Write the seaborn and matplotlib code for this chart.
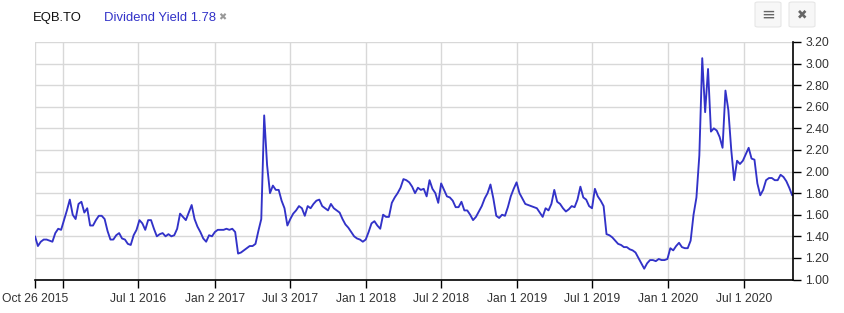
import numpy as np
import pandas as pd
import matplotlib
matplotlib.use("Agg")
import matplotlib.pyplot as plt
import matplotlib.dates as mdates
from matplotlib.patches import FancyBboxPatch
import seaborn as sns

# ---- data (weekly samples) ----
start_date = "2015-10-26"
yield_values = [
    1.40, 1.31, 1.35, 1.37, 1.37, 1.36, 1.35, 1.43, 1.47, 1.46,
    1.55, 1.64, 1.74, 1.60, 1.56, 1.70, 1.72, 1.62, 1.66, 1.50,
    1.50, 1.55, 1.59, 1.59, 1.56, 1.45, 1.37, 1.37, 1.41, 1.43,
    1.38, 1.37, 1.33, 1.32, 1.41, 1.46, 1.55, 1.52, 1.46, 1.55,
    1.55, 1.47, 1.40, 1.42, 1.43, 1.40, 1.42, 1.40, 1.41, 1.47,
    1.61, 1.58, 1.55, 1.62, 1.69, 1.56, 1.49, 1.44, 1.38, 1.35,
    1.41, 1.40, 1.44, 1.46, 1.46, 1.46, 1.47, 1.46, 1.47, 1.44,
    1.24, 1.25, 1.27, 1.29, 1.31, 1.31, 1.33, 1.45, 1.56, 2.52,
    2.06, 1.80, 1.87, 1.83, 1.83, 1.73, 1.66, 1.50, 1.56, 1.61,
    1.64, 1.68, 1.66, 1.59, 1.68, 1.66, 1.70, 1.73, 1.74, 1.68,
    1.66, 1.64, 1.70, 1.66, 1.64, 1.62, 1.56, 1.51, 1.48, 1.44,
    1.40, 1.38, 1.37, 1.35, 1.37, 1.44, 1.52, 1.54, 1.50, 1.47,
    1.60, 1.58, 1.58, 1.71, 1.76, 1.80, 1.85, 1.93, 1.92, 1.90,
    1.86, 1.80, 1.85, 1.83, 1.84, 1.77, 1.92, 1.84, 1.80, 1.71,
    1.89, 1.83, 1.77, 1.76, 1.73, 1.67, 1.67, 1.72, 1.64, 1.64,
    1.60, 1.55, 1.58, 1.63, 1.68, 1.75, 1.80, 1.88, 1.75, 1.59,
    1.57, 1.60, 1.59, 1.67, 1.77, 1.84, 1.90, 1.80, 1.75, 1.70,
    1.69, 1.68, 1.67, 1.66, 1.62, 1.58, 1.66, 1.64, 1.70, 1.83,
    1.72, 1.70, 1.66, 1.63, 1.65, 1.68, 1.67, 1.74, 1.86, 1.76,
    1.74, 1.68, 1.66, 1.84, 1.77, 1.73, 1.68, 1.42, 1.41, 1.39,
    1.36, 1.33, 1.32, 1.30, 1.30, 1.28, 1.27, 1.25, 1.20, 1.15,
    1.10, 1.15, 1.18, 1.18, 1.17, 1.19, 1.18, 1.18, 1.19, 1.29,
    1.27, 1.31, 1.34, 1.30, 1.29, 1.29, 1.36, 1.60, 1.76, 2.15,
    3.05, 2.55, 2.95, 2.37, 2.40, 2.38, 2.32, 2.22, 2.75, 2.57,
    2.20, 1.92, 2.10, 2.07, 2.10, 2.16, 2.22, 2.12, 2.11, 1.89,
    1.78, 1.83, 1.92, 1.94, 1.94, 1.92, 1.92, 1.97, 1.95, 1.91,
    1.85, 1.78,
]
x_tick_dates = ["2015-10-26", "2016-01-01", "2016-07-01", "2017-01-02", "2017-07-03",
                "2018-01-01", "2018-07-02", "2019-01-01", "2019-07-01", "2020-01-01",
                "2020-07-01"]
x_tick_labels = ["Oct 26 2015", "", "Jul 1 2016", "Jan 2 2017", "Jul 3 2017",
                 "Jan 1 2018", "Jul 2 2018", "Jan 1 2019", "Jul 1 2019", "Jan 1 2020",
                 "Jul 1 2020"]
y_ticks = [1.00, 1.20, 1.40, 1.60, 1.80, 2.00, 2.20, 2.40, 2.60, 2.80, 3.00, 3.20]
x_end = "2020-10-28"

df = pd.DataFrame({
    "date": pd.date_range(start_date, periods=len(yield_values), freq="7D"),
    "yield": yield_values,
})

sns.set_theme(style="white")
plt.rcParams["font.family"] = ["Liberation Sans", "DejaVu Sans"]

W, H = 845, 313
fig = plt.figure(figsize=(W / 100, H / 100), dpi=100)
ax = fig.add_axes([35 / W, (H - 279.5) / H, (793 - 35) / W, (279.5 - 42) / H])

grid_c = "#d8d8d8"
sns.lineplot(data=df, x="date", y="yield", ax=ax, color="#3232c8", linewidth=1.35)

ax.set_xlim(pd.Timestamp(start_date), pd.Timestamp(x_end))
ax.set_ylim(1.0, 3.2)
ax.set_xlabel("")
ax.set_ylabel("")

ax.set_xticks([pd.Timestamp(d) for d in x_tick_dates])
ax.set_xticklabels(x_tick_labels)
ax.yaxis.tick_right()
ax.set_yticks(y_ticks)
ax.set_yticklabels([f"{v:.2f}" for v in y_ticks])

ax.grid(True, color=grid_c, linewidth=1)
ax.set_axisbelow(True)
for s in ["left", "top"]:
    ax.spines[s].set_visible(False)
for s in ["right", "bottom"]:
    ax.spines[s].set_visible(True)
    ax.spines[s].set_color("black")
    ax.spines[s].set_linewidth(1.2)

ax.tick_params(axis="x", direction="out", length=6, width=1, color="black",
               labelsize=8.7, labelcolor="#333333", pad=4, bottom=True)
ax.tick_params(axis="y", direction="out", length=6, width=1, color="black",
               labelsize=8.7, labelcolor="#333333", pad=3, right=True, left=False)

# header
fig.text(33 / W, 1 - 18 / H, "EQB.TO", fontsize=9.4, color="#111111", va="center", ha="left")
fig.text(104 / W, 1 - 18 / H, "Dividend Yield 1.78", fontsize=9.4, color="#3232c8",
         va="center", ha="left")
fig.text(218 / W, 1 - 17 / H, "✖", fontsize=7, color="#999999", va="center", ha="left",
         family=["DejaVu Sans"])

# buttons
for x0, sym in [(755, "≡"), (789, "✖")]:
    fig.patches.append(FancyBboxPatch((x0 / W, 1 - 27 / H), 26 / W, 25 / H,
                                      boxstyle="round,pad=0,rounding_size=0.004",
                                      transform=fig.transFigure, facecolor="#f7f7f7",
                                      edgecolor="#e6e6e6", linewidth=0.8))
    fig.text((x0 + 13) / W, 1 - 14.5 / H, sym, fontsize=12 if sym == "≡" else 9,
             color="#666666", ha="center", va="center", family=["DejaVu Sans"])

fig.savefig("out.png", dpi=100, facecolor="white")
